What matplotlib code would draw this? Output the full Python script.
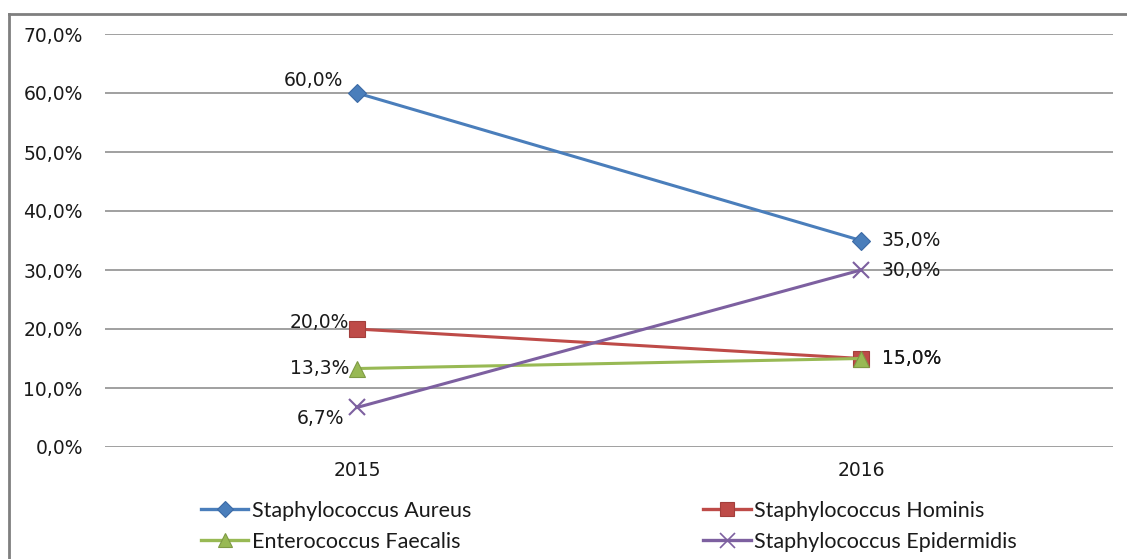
import matplotlib
matplotlib.use("Agg")
import matplotlib.pyplot as plt
from matplotlib.lines import Line2D

years = ["2015", "2016"]
series_names = [
    "Staphylococcus Aureus",
    "Staphylococcus Hominis",
    "Enterococcus Faecalis",
    "Staphylococcus Epidermidis",
]
aureus = [0.600, 0.350]
hominis = [0.200, 0.150]
faecalis = [0.133, 0.150]
epidermidis = [0.067, 0.300]
y_ticks = [0.0, 0.1, 0.2, 0.3, 0.4, 0.5, 0.6, 0.7]

colors = ["#4A7EBB", "#BE4B48", "#98B954", "#7D60A0"]
edge_colors = ["#3C6AA5", "#A33F3C", "#7E9A44", "#7D60A0"]
markers = ["D", "s", "^", "x"]
marker_sizes = [9.5, 11, 11, 12]
# label offsets (pixels) for the 2015 point of each series
left_offsets = [(-14, 13), (-8, 7), (-8, 0), (-13, -11)]

FS = 13.5


def pct(v):
    return f"{v * 100:.1f}%".replace(".", ",")


fig = plt.figure(figsize=(11.27, 5.59), dpi=100)
ax = fig.add_axes([105 / 1127, 1 - 447 / 559, 1008 / 1127, 413 / 559])

x = [0, 1]
handles = []
for name, vals, c, ec, m, ms, off in zip(
    series_names, [aureus, hominis, faecalis, epidermidis],
    colors, edge_colors, markers, marker_sizes, left_offsets,
):
    ax.plot(
        x, vals, color=c, lw=2.2, marker=m, ms=ms,
        markerfacecolor=c, markeredgecolor=ec,
        mew=1.5 if m == "x" else 0.8, zorder=3,
    )
    handles.append(Line2D([], [], color=c, lw=2.4, marker=m, ms=ms * 0.9,
                          markerfacecolor=c, markeredgecolor=ec,
                          mew=1.2 if m == "x" else 0.8))
    ax.annotate(pct(vals[0]), (x[0], vals[0]), xytext=off,
                textcoords="offset pixels", ha="right", va="center",
                fontsize=FS, color="#1a1a1a", zorder=4)
    ax.annotate(pct(vals[1]), (x[1], vals[1]), xytext=(21, 0),
                textcoords="offset pixels", ha="left", va="center",
                fontsize=FS, color="#1a1a1a", zorder=4)

ax.set_xlim(-0.5, 1.5)
ax.set_ylim(0, 0.7)
ax.set_yticks(y_ticks)
ax.set_yticklabels([pct(v) for v in y_ticks], fontsize=FS, color="#1a1a1a")
ax.set_xticks(x)
ax.set_xticklabels(years, fontsize=FS, color="#1a1a1a")
ax.tick_params(length=0, axis="y", pad=16)
ax.tick_params(length=0, axis="x", pad=10)
ax.grid(axis="y", color="#868686", lw=1.1)
ax.set_axisbelow(True)
for s in ax.spines.values():
    s.set_visible(False)

# outer chart frame (only left and top edges fall inside the image)
fig.add_artist(Line2D([9 / 1127, 9 / 1127], [0, 1 - 14 / 559],
                      transform=fig.transFigure, color="#7f7f7f", lw=2))
fig.add_artist(Line2D([9 / 1127, 1], [1 - 14 / 559, 1 - 14 / 559],
                      transform=fig.transFigure, color="#7f7f7f", lw=2))

order = [0, 2, 1, 3]
leg = fig.legend(
    [handles[i] for i in order], [series_names[i] for i in order],
    ncol=2, loc="upper left", bbox_to_anchor=(201 / 1127, 1 - 501 / 559),
    frameon=False, prop={"family": "Lato", "size": 15.5},
    handlelength=2.2, handletextpad=0.15, columnspacing=10.8,
    labelspacing=0.5, borderaxespad=0, borderpad=0,
)
for t in leg.get_texts():
    t.set_color("#1a1a1a")

fig.savefig("out.png", dpi=100)
